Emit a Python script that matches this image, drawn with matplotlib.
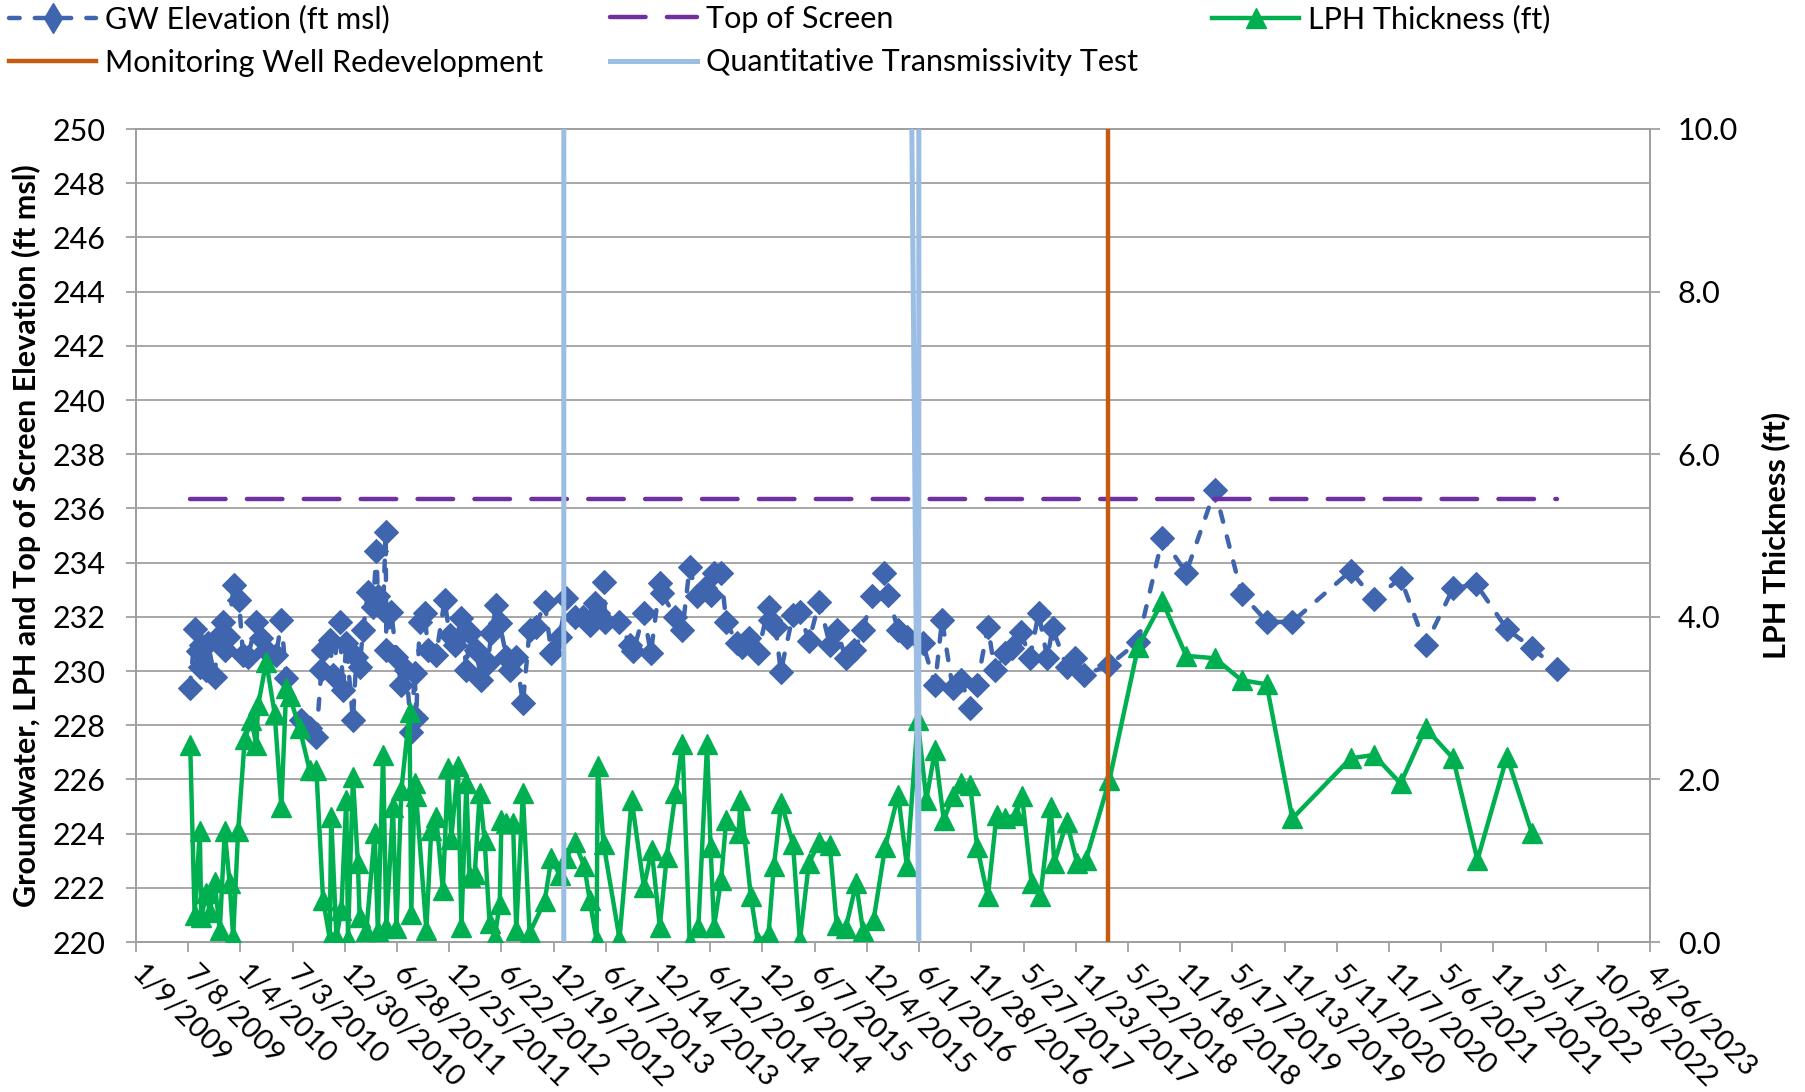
import numpy as np
import matplotlib
matplotlib.use("Agg")
import matplotlib.pyplot as plt
from matplotlib.lines import Line2D
from matplotlib.ticker import FixedLocator, FuncFormatter
import datetime as dt

plt.rcParams['font.family'] = ['Lato', 'DejaVu Sans']

# ---------------- data (dates are Excel serial day numbers) ----------------
gw_dates = [40007, 40027, 40036, 40042, 40047, 40065, 40070, 40093, 40105, 40122,
            40128, 40139, 40159, 40177, 40191, 40208, 40237, 40254, 40271, 40306,
            40323, 40340, 40392, 40421, 40444, 40461, 40467, 40490, 40501, 40524,
            40536, 40547, 40570, 40582, 40593, 40605, 40622, 40639, 40651, 40656,
            40674, 40683, 40685, 40702, 40720, 40737, 40754, 40771, 40783, 40788,
            40800, 40817, 40829, 40857, 40886, 40903, 40921, 40944, 40961, 40972,
            40995, 41012, 41035, 41047, 41064, 41076, 41099, 41110, 41133, 41156,
            41179, 41202, 41231, 41254, 41283, 41306, 41334, 41362, 41386, 41404,
            41416, 41434, 41440, 41489, 41525, 41537, 41573, 41597, 41628, 41634,
            41682, 41706, 41731, 41755, 41785, 41803, 41815, 41839, 41857, 41894,
            41912, 41936, 41966, 42003, 42009, 42027, 42045, 42087, 42111, 42142,
            42178, 42214, 42238, 42269, 42299, 42329, 42359, 42402, 42414, 42450,
            42480, 42535, 42577, 42601, 42638, 42668, 42698, 42722, 42759, 42783,
            42819, 42843, 42873, 42904, 42934, 42964, 42982, 43031, 43061, 43091,
            43178, 43277, 43361, 43443, 43542, 43634, 43723, 43809, 44010, 44090,
            44182, 44268, 44363, 44443, 44549, 44635, 44721]
gw_elev = [229.36, 231.54, 230.72, 230.16, 230.96, 230.04, 231.02, 229.79, 231.27, 231.82,
           230.78, 231.27, 233.18, 232.62, 230.59, 230.53, 231.82, 231.21, 230.78, 230.59,
           231.88, 229.73, 228.20, 227.89, 227.58, 230.04, 230.78, 231.15, 229.86, 231.82,
           229.30, 231.02, 228.20, 230.53, 230.16, 231.52, 232.93, 232.38, 234.41, 232.75,
           232.26, 235.14, 230.78, 232.19, 230.53, 229.49, 230.04, 227.76, 229.92, 228.26,
           231.82, 232.13, 230.78, 230.59, 232.62, 231.33, 230.96, 231.95, 230.04, 231.39,
           230.78, 229.67, 230.29, 231.39, 232.44, 231.76, 230.53, 230.04, 230.53, 228.81,
           231.52, 231.64, 232.56, 230.65, 231.27, 232.68, 232.01, 232.01, 231.70, 232.50,
           232.13, 233.30, 231.82, 231.82, 230.96, 230.72, 232.13, 230.65, 233.24, 232.87,
           232.01, 231.52, 233.85, 232.75, 233.05, 232.81, 233.61, 233.61, 231.82, 231.02,
           230.90, 231.21, 230.65, 232.38, 231.88, 231.64, 229.98, 232.07, 232.19, 231.09,
           232.56, 230.96, 231.52, 230.47, 230.78, 231.52, 232.75, 233.61, 232.81, 231.52,
           231.27, 231.02, 229.49, 231.88, 229.36, 229.67, 228.63, 229.49, 231.64, 230.04,
           230.65, 230.84, 231.45, 230.47, 232.13, 230.47, 231.58, 230.16, 230.47, 229.86,
           230.22, 231.08, 234.90, 233.63, 236.68, 232.84, 231.80, 231.82, 233.69, 232.65,
           233.42, 230.96, 233.05, 233.20, 231.54, 230.86, 230.07]

lph_dates = [40009, 40024, 40042, 40047, 40065, 40076, 40093, 40111, 40128, 40145,
             40157, 40174, 40197, 40220, 40237, 40243, 40271, 40300, 40323, 40340,
             40352, 40386, 40421, 40444, 40467, 40490, 40495, 40513, 40530, 40547,
             40553, 40570, 40587, 40593, 40616, 40645, 40656, 40674, 40685, 40708,
             40720, 40737, 40765, 40771, 40783, 40788, 40823, 40840, 40857, 40880,
             40898, 40909, 40932, 40944, 40961, 40972, 40990, 41007, 41024, 41041,
             41059, 41076, 41082, 41099, 41122, 41133, 41156, 41179, 41231, 41254,
             41283, 41306, 41334, 41368, 41386, 41410, 41414, 41434, 41489, 41531,
             41573, 41600, 41628, 41652, 41682, 41706, 41731, 41761, 41791, 41803,
             41815, 41839, 41857, 41900, 41906, 41942, 41966, 42003, 42021, 42047,
             42087, 42111, 42142, 42178, 42214, 42238, 42269, 42305, 42329, 42365,
             42405, 42450, 42480, 42517, 42547, 42577, 42607, 42638, 42668, 42698,
             42722, 42759, 42789, 42819, 42855, 42877, 42910, 42940, 42976, 42988,
             43031, 43067, 43097, 43178, 43277, 43361, 43443, 43542, 43634, 43720,
             43809, 44010, 44090, 44182, 44268, 44363, 44447, 44549, 44635]
lph_thick = [2.42, 0.33, 1.36, 0.31, 0.60, 0.37, 0.74, 0.15, 1.36, 0.72,
             0.06, 1.36, 2.50, 2.73, 2.42, 2.91, 3.45, 2.81, 1.66, 3.12,
             3.02, 2.63, 2.11, 2.11, 0.52, 0.04, 1.54, 0.06, 0.39, 1.75,
             0.04, 2.03, 0.97, 0.31, 0.13, 1.34, 0.13, 2.30, 0.19, 1.66,
             0.17, 1.87, 2.83, 0.35, 1.95, 1.79, 0.15, 1.38, 1.54, 0.64,
             2.14, 1.27, 2.16, 0.19, 1.95, 0.80, 0.84, 1.83, 1.25, 0.23,
             0.06, 0.47, 1.50, 1.46, 1.46, 0.15, 1.83, 0.11, 0.50, 1.03,
             0.82, 1.03, 1.23, 0.93, 0.52, 0.02, 2.16, 1.21, 0.04, 1.75,
             0.68, 1.13, 0.19, 1.05, 1.83, 2.44, 0.00, 0.19, 2.44, 1.17,
             0.19, 0.76, 1.50, 1.34, 1.75, 0.56, 0.00, 0.10, 0.93, 1.71,
             1.21, 0.02, 0.97, 1.23, 1.19, 0.21, 0.17, 0.72, 0.13, 0.27,
             1.17, 1.81, 0.93, 2.73, 1.75, 2.36, 1.50, 1.79, 1.95, 1.93,
             1.17, 0.56, 1.56, 1.52, 1.56, 1.79, 0.72, 0.56, 1.66, 0.97,
             1.48, 0.97, 1.01, 1.99, 3.63, 4.19, 3.52, 3.49, 3.22, 3.17,
             1.52, 2.26, 2.30, 1.95, 2.63, 2.26, 1.01, 2.28, 1.34]

screen_dates = [40007, 44721]
screen_top = [236.34, 236.34]

redev_dates = [43172, 43172]
redev_elev = [220, 250]

qtt_dates = [41297, 41297, np.nan, 42497, 42521, 42521]
qtt_elev = [220, 250, np.nan, 250, 220, 250]

x_start = 39822          # 1/9/2009
x_step = 180
x_count = 30
left_ticks = [220, 222, 224, 226, 228, 230, 232, 234, 236, 238, 240, 242, 244, 246, 248, 250]
right_ticks = [0.0, 2.0, 4.0, 6.0, 8.0, 10.0]

labels = ["GW Elevation (ft msl)", "Top of Screen", "LPH Thickness (ft)",
          "Monitoring Well Redevelopment", "Quantitative Transmissivity Test"]
ylabel_left = "Groundwater, LPH and Top of Screen Elevation (ft msl)"
ylabel_right = "LPH Thickness (ft)"

# ---------------- styles ----------------
C_GW = '#3F65AE'
C_TOP = '#7030A0'
C_LPH = '#00B050'
C_RED = '#C55A11'
C_QTT = '#9CBDE4'
C_GRID = '#A0A0A0'

W, H = 1806, 1092
fig = plt.figure(figsize=(W / 100, H / 100), dpi=100)
L, R, T, B = 136, 1650, 129, 942
ax = fig.add_axes([L / W, 1 - B / H, (R - L) / W, (B - T) / H])
ax2 = ax.twinx()

gw_kw = dict(color=C_GW, lw=3.2, ls=(0, (2.4, 3.4)), dash_capstyle='round',
             marker='D', ms=12, mfc=C_GW, mec=C_GW, mew=0.8)
top_kw = dict(color=C_TOP, lw=3.2, ls=(0, (8.0, 4.8)), dash_capstyle='round')
lph_kw = dict(color=C_LPH, lw=3.2, marker='^', ms=14.5, mfc=C_LPH, mec=C_LPH, mew=1)
red_kw = dict(color=C_RED, lw=3.2)
qtt_kw = dict(color=C_QTT, lw=3.6)

ax.plot(gw_dates, gw_elev, zorder=3, **gw_kw)
ax.plot(screen_dates, screen_top, zorder=4, **top_kw)

ax2.plot(lph_dates, lph_thick, zorder=3, **lph_kw)
ax2.plot(qtt_dates, qtt_elev, transform=ax.transData, zorder=4, **qtt_kw)
ax2.plot(redev_dates, redev_elev, transform=ax.transData, zorder=5, **red_kw)

x_end = x_start + x_step * (x_count - 1)
ax.set_xlim(x_start, x_end)
ax.set_ylim(220, 250)
ax2.set_ylim(0, 10)
ax2.set_xlim(x_start, x_end)

xticks = [x_start + x_step * i for i in range(x_count)]
ax.xaxis.set_major_locator(FixedLocator(xticks))
base = dt.datetime(1899, 12, 30)


def fmt_date(v, pos=None):
    d = base + dt.timedelta(days=int(round(v)))
    return f"{d.month}/{d.day}/{d.year}"


ax.xaxis.set_major_formatter(FuncFormatter(fmt_date))
ax.yaxis.set_major_locator(FixedLocator(left_ticks))
ax2.yaxis.set_major_locator(FixedLocator(right_ticks))
ax2.yaxis.set_major_formatter(FuncFormatter(lambda v, p: f"{v:.1f}"))

ax.grid(axis='y', color=C_GRID, lw=1.3)
ax.set_axisbelow(True)

for a in (ax, ax2):
    for s in a.spines.values():
        s.set_color(C_GRID)
        s.set_linewidth(1.3)

FS = 22
ax.tick_params(axis='y', length=7, width=1.3, color=C_GRID, pad=15, labelsize=FS)
ax2.tick_params(axis='y', length=7, width=1.3, color=C_GRID, pad=13, labelsize=FS)
ax.tick_params(axis='x', length=7, width=1.3, color=C_GRID, pad=13, labelsize=21)

for lab in ax.get_xticklabels():
    lab.set_rotation(-45)
    lab.set_rotation_mode('anchor')
    lab.set_ha('left')
    lab.set_va('center')

ax.set_ylabel(ylabel_left, fontsize=22, fontweight='bold')
ax.yaxis.set_label_coords((41 - L) / (R - L), 0.5)
ax2.set_ylabel(ylabel_right, fontsize=22, fontweight='bold', rotation=90)
ax2.yaxis.set_label_coords((1761 - L) / (R - L), 0.5)

# ---------------- legend ----------------
h_gw = Line2D([], [], color=C_GW, lw=3.2, ls=(0, (2.4, 3.4)), dash_capstyle='round',
              marker='d', ms=15, mfc=C_GW, mec=C_GW)
h_top = Line2D([], [], **top_kw)
h_lph = Line2D([], [], **lph_kw)
h_red = Line2D([], [], **red_kw)
h_qtt = Line2D([], [], **qtt_kw)

leg_kw = dict(loc='upper left', frameon=False, fontsize=FS, handlelength=2.85,
              handletextpad=0.3, labelspacing=0.5, borderpad=0, borderaxespad=0,
              numpoints=1)
fig.legend([h_gw, h_red], [labels[0], labels[3]], bbox_to_anchor=(9 / W, 1 - 5 / H), **leg_kw)
fig.legend([h_top, h_qtt], [labels[1], labels[4]], bbox_to_anchor=(610 / W, 1 - 5 / H), **leg_kw)
fig.legend([h_lph], [labels[2]], bbox_to_anchor=(1212 / W, 1 - 5 / H), **leg_kw)

fig.savefig("out.png", dpi=100)
